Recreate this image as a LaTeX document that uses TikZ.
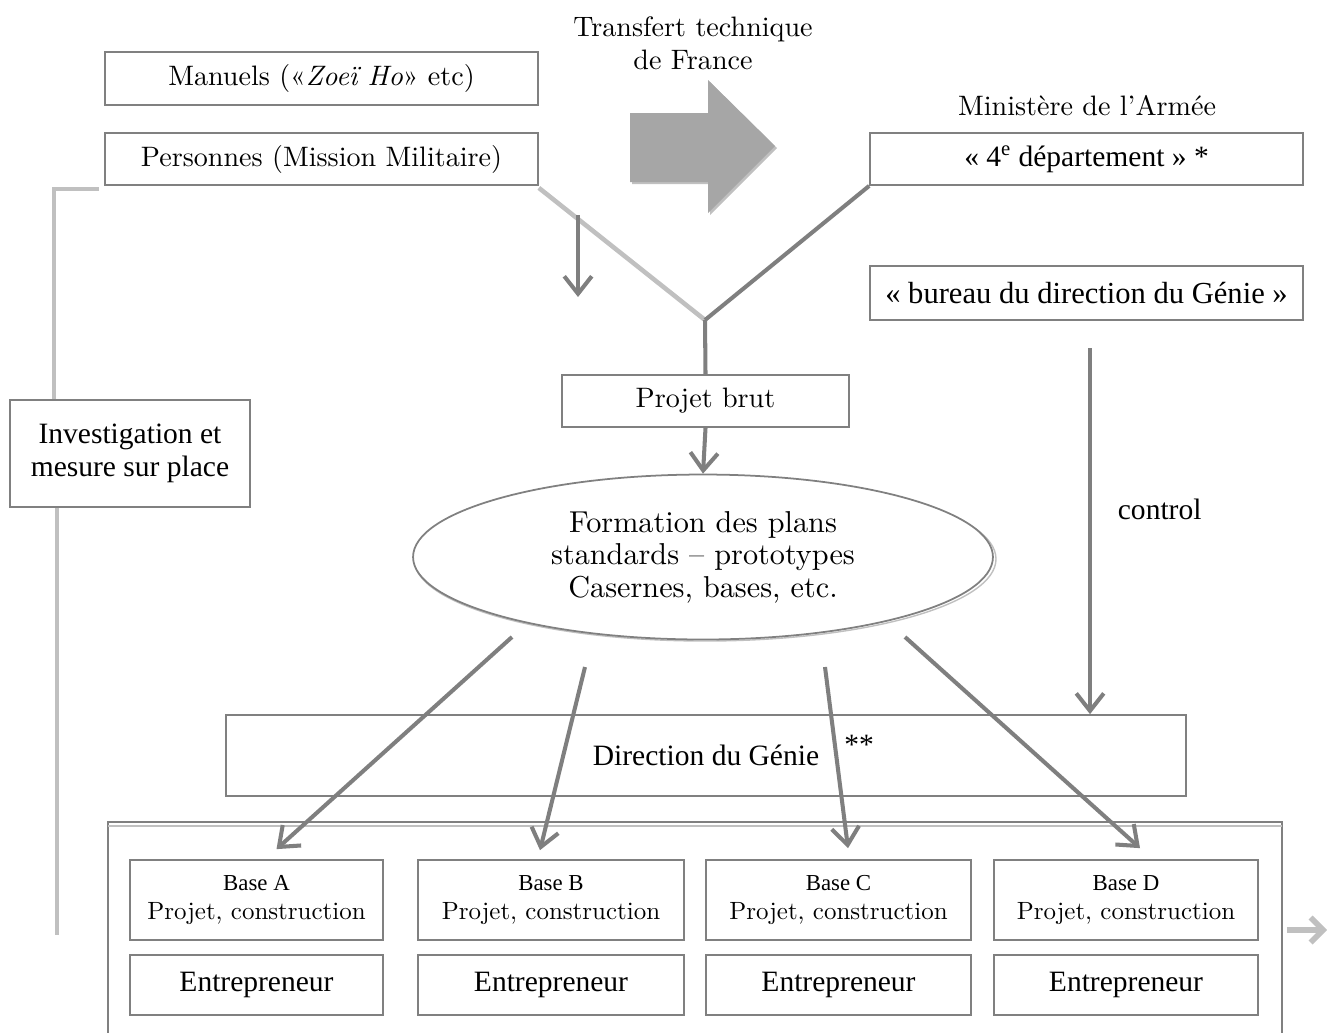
\documentclass[tikz,border=0pt]{standalone}
\usepackage{fontspec}
\setmainfont{lmroman10-regular}[Extension=.otf, ItalicFont=lmroman10-italic, BoldFont=lmroman10-bold]
\newfontfamily\timesfont{Liberation Serif}
\usetikzlibrary{arrows.meta,shapes.geometric,calc}

\definecolor{boxgray}{HTML}{808080}
\definecolor{darkline}{HTML}{7F7F7F}
\definecolor{lightline}{HTML}{C0C0C0}
\definecolor{arrowfill}{HTML}{A6A6A6}

\begin{document}
\begin{tikzpicture}[x=0.02cm, y=-0.02cm,
    box/.style={draw=boxgray, line width=1pt, fill=white, inner sep=0pt, align=center},
    dark/.style={draw=darkline, line width=2.3pt},
    light/.style={draw=lightline, line width=2.6pt},
    darkarrow/.style={dark, -{Straight Barb[length=3.5mm, width=5.5mm]}},
    lightarrow/.style={light, line width=3.2pt, -{Straight Barb[length=2.5mm, width=5mm]}},
    cent/.style={font=\fontsize{16}{18.5}\selectfont},
    tim/.style={font=\timesfont\fontsize{16.8}{18.7}\selectfont}]
    \useasboundingbox (0,0) rectangle (1327,1032);

    % sources
    \node[box, cent, minimum width=8.66cm, minimum height=1.06cm] (manuels) at (321.5,78.5) {Manuels («\textit{Zoeï Ho}» etc)};
    \node[box, cent, minimum width=8.66cm, minimum height=1.04cm] (pers) at (321.5,159) {Personnes (Mission Militaire)};
    \node[cent, align=center] (transfert) at (693,43) {Transfert technique\\de France};

    % grande flèche
    \fill[lightline, shift={(2,2)}] (630,113) -- (708,113) -- (708,80) -- (775,146) -- (708,213) -- (708,182) -- (630,182) -- cycle;
    \fill[arrowfill] (630,113) -- (708,113) -- (708,80) -- (775,146) -- (708,213) -- (708,182) -- (630,182) -- cycle;

    % ministère
    \node[cent] (ministere) at (1087,106) {Ministère de l’Armée};
    \node[box, tim, minimum width=8.66cm, minimum height=1.04cm] (dept) at (1086.5,159) {« 4\textsuperscript{e} département » *};
    \node[box, tim, font=\timesfont\fontsize{17.4}{20}\selectfont, minimum width=8.66cm, minimum height=1.08cm] (bureau) at (1086.5,293) {« bureau du direction du Génie »};

    % investigation
    \node[box, tim, minimum width=4.8cm, minimum height=2.14cm] (invest) at (130,453.5) {Investigation et\\mesure sur place};

    % projet et plans
    \node[box, cent, minimum width=5.74cm, minimum height=1.04cm] (projet) at (705.5,401) {Projet brut};
    \draw[lightline, line width=0.8pt] (705,559) ellipse (291 and 82);
    \node[box, ellipse, font=\fontsize{17.2}{18.5}\selectfont, minimum width=11.6cm, minimum height=3.3cm] (form) at (703,557) {Formation des plans\\standards – prototypes\\Casernes, bases, etc.};

    % direction et bases
    \node[box, tim, minimum width=19.2cm, minimum height=1.62cm] (dir) at (706,755.5) {Direction du Génie};
    \node[tim] (etoiles) at (859,745) {**};
    \node[box, minimum width=23.48cm, minimum height=4.8cm] (bases) at (695,942) {};
    \draw[lightline, line width=1pt] ($(bases.north west)+(1,5)$) -- ($(bases.north east)+(-1,5)$);
    \foreach \n/\cx/\w in {A/256.5/5.06, B/551/5.32, C/838.5/5.3, D/1126/5.28} {
        \node[box, font=\fontsize{14.2}{16.5}\selectfont, minimum width=\w cm, minimum height=1.6cm] (base\n) at (\cx,900) {{\timesfont\fontsize{13}{16.5}\selectfont Base \n}\\Projet, construction};
        \node[box, tim, minimum width=\w cm, minimum height=1.2cm] (entr\n) at (\cx,985) {Entrepreneur};
    }

    % liaisons du haut
    \coordinate (junc) at (705,320);
    \draw[light] ($(pers.south east)+(0,2)$) -- (junc);
    \draw[dark] (dept.south west) -- (junc);
    \draw[dark] (junc) -- (projet.north);
    \draw[darkarrow] (projet.south) -- (form.north);
    \coordinate (dn1) at (578,215);
    \coordinate (dn2) at (578,297);
    \draw[darkarrow] (dn1) -- (dn2);

    % contrôle
    \coordinate (ctrl) at (1090,348);
    \draw[darkarrow] (ctrl) -- (ctrl |- dir.north) node[pos=0.44, right=0.4cm, tim] (ctrllbl) {control};

    % vers les bases
    \coordinate (fa) at (512,637);
    \coordinate (fb) at (585,667);
    \coordinate (fc) at (825,667);
    \coordinate (fd) at (905,637);
    \draw[darkarrow] (fa) -- ($(baseA.north)+(20,-10)$);
    \draw[darkarrow] (fb) -- ($(baseB.north)+(-11,-9)$);
    \draw[darkarrow] (fc) -- ($(baseC.north)+(9.5,-11)$);
    \draw[darkarrow] (fd) -- ($(baseD.north)+(14,-11)$);

    % ligne de gauche
    \draw[light] ($(pers.south west)+(-5,3)$) -| ($(invest.north west)+(45,0)$);
    \coordinate (invend) at (57,935);
    \draw[light] (invend |- invest.south) -- (invend);

    % sortie
    \coordinate (sortie) at (1327,930);
    \draw[lightarrow] ($(sortie -| bases.east)+(4,0)$) -- (sortie);
\end{tikzpicture}
\end{document}
